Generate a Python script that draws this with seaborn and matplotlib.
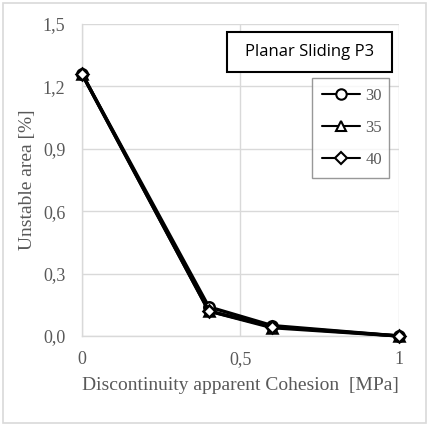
import matplotlib
matplotlib.use("Agg")
import matplotlib.pyplot as plt
import seaborn as sns
import pandas as pd
from matplotlib.patches import Rectangle
from matplotlib.lines import Line2D

cohesion = [0, 0.4, 0.6, 1.0]
s30 = [1.26, 0.14, 0.05, 0.0]
s35 = [1.26, 0.12, 0.04, 0.0]
s40 = [1.26, 0.12, 0.045, 0.0]
series_names = ["30", "35", "40"]
y_ticks = [0.0, 0.3, 0.6, 0.9, 1.2, 1.5]
y_tick_labels = ["0,0", "0,3", "0,6", "0,9", "1,2", "1,5"]
x_ticks = [0, 0.5, 1]
x_tick_labels = ["0", "0,5", "1"]
title = "Planar Sliding P3"
xlabel = "Discontinuity apparent Cohesion  [MPa]"
ylabel = "Unstable area [%]"

rows = []
for name, vals in zip(series_names, [s30, s35, s40]):
    for x, y in zip(cohesion, vals):
        rows.append({"c": x, "u": y, "s": name})
df = pd.DataFrame(rows)

sns.set_theme(style="white")
plt.rcParams["font.family"] = ["Liberation Serif", "DejaVu Serif"]

fig = plt.figure(figsize=(4.29, 4.26), dpi=100)
W, H = 429, 426
ax = fig.add_axes([82 / W, 1 - 336 / H, (399 - 82) / W, (336 - 24) / H])

gray_text = "#595959"
grid_c = "#d9d9d9"
markers = {"30": "o", "35": "^", "40": "D"}
msize = {"30": 7.5, "35": 7, "40": 6}
for name in series_names:
    sub = df[df.s == name]
    sns.lineplot(data=sub, x="c", y="u", ax=ax, color="black", lw=2.4,
                 marker=markers[name], markersize=msize[name],
                 markerfacecolor="white", markeredgecolor="black",
                 markeredgewidth=1.8, legend=False, zorder=3, clip_on=False)

ax.set_xlim(0, 1)
ax.set_ylim(0, 1.5)
ax.set_xticks(x_ticks)
ax.set_xticklabels(x_tick_labels)
ax.set_yticks(y_ticks)
ax.set_yticklabels(y_tick_labels)
ax.tick_params(axis="both", length=0, labelsize=13, labelcolor=gray_text)
ax.tick_params(axis="x", pad=11)
ax.tick_params(axis="y", pad=12)
ax.grid(True, color=grid_c, lw=1)
for side in ["top", "right"]:
    ax.spines[side].set_visible(False)
for side in ["left", "bottom"]:
    ax.spines[side].set_color(grid_c)
    ax.spines[side].set_linewidth(1)
ax.set_xlabel(xlabel, fontsize=14, color=gray_text)
ax.set_ylabel(ylabel, fontsize=14, color=gray_text)
ax.xaxis.set_label_coords(0.5, -0.13)
ax.yaxis.set_label_coords(-0.145, 0.5)

# figure border
fig.patches.append(Rectangle((3 / W, 3 / H), (426 - 3) / W, (423 - 3) / H,
                             transform=fig.transFigure, fill=False,
                             edgecolor="#d9d9d9", lw=1.2))

# title box
fig.patches.append(Rectangle((227 / W, 1 - 72 / H), (392 - 227) / W, 40 / H,
                             transform=fig.transFigure, facecolor="white",
                             edgecolor="black", lw=1.5, zorder=5))
fig.text((227 + 392) / 2 / W, 1 - (32 + 72) / 2 / H, title,
         ha="center", va="center", fontsize=12, family=["Open Sans", "DejaVu Sans"],
         color="black", zorder=6)

# legend
handles = [Line2D([0], [0], color="black", lw=1.5, marker=markers[n],
                  markersize=msize[n], markerfacecolor="white",
                  markeredgecolor="black", markeredgewidth=1.5)
           for n in series_names]
leg = fig.legend(handles, series_names, loc="upper left",
                 bbox_to_anchor=(312 / W, 1 - 171 / H, (389 - 312) / W, (171 - 78) / H),
                 mode="expand", frameon=True, fancybox=False, fontsize=12,
                 handlelength=2.3, labelspacing=0.95, borderpad=0.6,
                 handletextpad=0.3, borderaxespad=0)
leg.get_frame().set_edgecolor("#7f7f7f")
leg.get_frame().set_linewidth(1)
for t in leg.get_texts():
    t.set_color(gray_text)

fig.savefig("out.png", dpi=100)
